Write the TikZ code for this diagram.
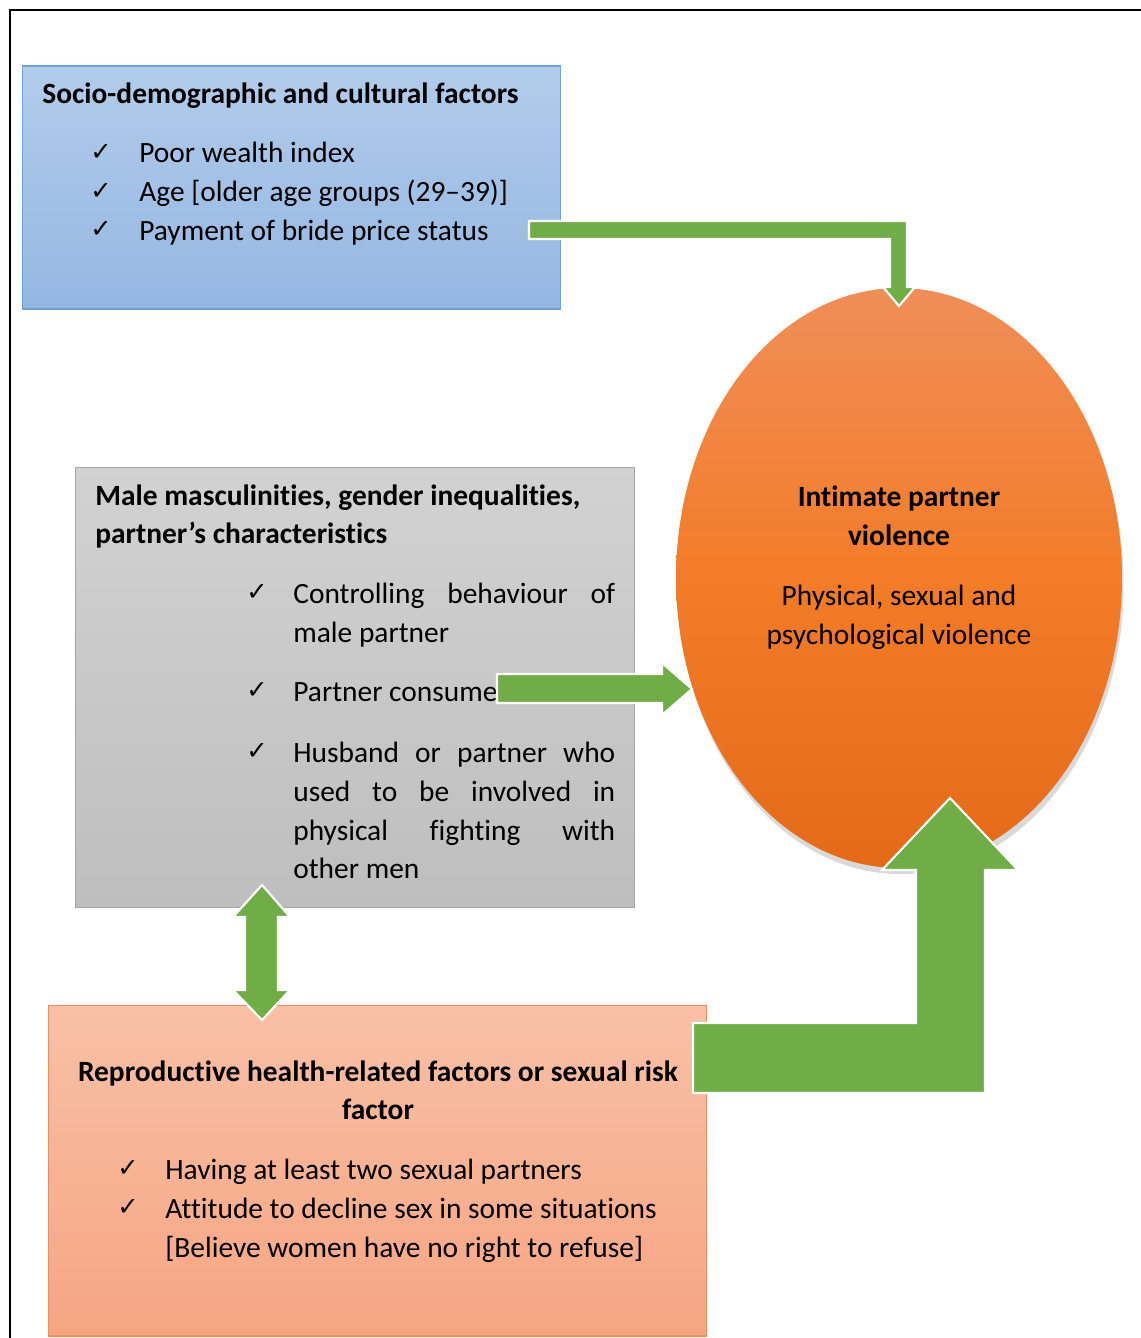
\documentclass[tikz,border=0pt]{standalone}
\usepackage{fontspec}
\setmainfont{Carlito}[Ligatures={TeX,NoCommon}]
\newfontfamily\symfont{DejaVu Sans}
\definecolor{socblue}{RGB}{178,204,235}
\definecolor{socblued}{RGB}{148,183,226}
\definecolor{socedge}{RGB}{111,160,220}
\definecolor{malegray}{RGB}{210,210,210}
\definecolor{malegrayd}{RGB}{190,190,190}
\definecolor{maleedge}{RGB}{165,165,165}
\definecolor{repsalmon}{RGB}{248,192,166}
\definecolor{repsalmond}{RGB}{246,165,130}
\definecolor{repedge}{RGB}{240,140,90}
\definecolor{ipvtop}{RGB}{240,142,88}
\definecolor{ipvmid}{RGB}{243,124,40}
\definecolor{ipvbot}{RGB}{228,106,26}
\definecolor{arrowgreen}{RGB}{112,173,71}
\usetikzlibrary{shapes.geometric,shadows}
\newcommand{\fullline}[1]{\makebox[6.44cm][s]{#1}}

\begin{document}
\begin{tikzpicture}[
  x=0.02cm, y=-0.02cm,
  every node/.style={font=\fontsize{16.75}{22}\selectfont,inner sep=0pt},
  factorbox/.style={rectangle,draw,line width=0.6pt},
  tick/.style={font=\symfont\fontsize{14.5}{14.5}\selectfont},
  item/.style={anchor=base west},
  mid/.style={anchor=base},
  head/.style={font=\fontsize{16.75}{22}\selectfont\bfseries},
  blockarrow/.style={fill=arrowgreen,draw=white,line width=1.2pt,line join=miter},
]
  \useasboundingbox (0,0) rectangle (1141,1338);

  % Frame
  \draw[line width=0.8pt] (10,1338) -- (10,10) -- (1141,10);

  % Socio-demographic box
  \node[factorbox,draw=socedge,top color=socblue,bottom color=socblued,
        minimum width=10.78cm,minimum height=4.86cm] (socio) at (291.5,187.5) {};
  \node[head,item] (sociotitle) at (42,104) {Socio-demographic and cultural factors};
  \foreach \y/\txt [count=\i] in {154/Poor wealth index,
                                  193/{Age [older age groups (29--39)]},
                                  231/Payment of bride price status}{
    \node[tick] (sociotick\i) at (101,\y-2) {✓};
    \node[item] (socioitem\i) at (139,\y+9) {\txt};
  }

  % Male masculinities box
  \node[factorbox,draw=maleedge,top color=malegray,bottom color=malegrayd,
        minimum width=11.2cm,minimum height=8.82cm] (male) at (355,687.5) {};
  \node[head,item] (maletitle1) at (95,505) {Male masculinities, gender inequalities,};
  \node[head,item] (maletitle2) at (95,543) {partner’s characteristics};
  \foreach \y in {594,692,753}{
    \node[tick] (maletick\y) at (257,\y-2) {✓};
  }
  \foreach \y/\txt [count=\i] in {594/{\fullline{Controlling behaviour of}},
                                  633/male partner,
                                  692/Partner consume,
                                  753/{\fullline{Husband or partner who}},
                                  792/{\fullline{used to be involved in}},
                                  831/{\fullline{physical fighting with}},
                                  869/other men}{
    \node[item] (maleitem\i) at (293,\y+9) {\txt};
  }

  % Reproductive health box
  \node[factorbox,draw=repedge,top color=repsalmon,bottom color=repsalmond,
        minimum width=13.18cm,minimum height=6.62cm] (repro) at (377.5,1170.5) {};
  \node[head,mid] (reprotitle1) at (378,1081) {Reproductive health-related factors or sexual risk};
  \node[head,mid] (reprotitle2) at (378,1119) {factor};
  \node[tick] (reprotick1) at (128,1168) {✓};
  \node[tick] (reprotick2) at (128,1207) {✓};
  \node[item] (reproitem1) at (165,1179) {Having at least two sexual partners};
  \node[item] (reproitem2) at (165,1218) {Attitude to decline sex in some situations};
  \node[item] (reproitem3) at (165,1257) {[Believe women have no right to refuse]};

  % Intimate partner violence
  \node[ellipse,top color=ipvtop,bottom color=ipvbot,middle color=ipvmid,
        minimum width=8.92cm,minimum height=11.6cm,
        drop shadow={shadow xshift=1pt,shadow yshift=-3.5pt,opacity=0.3}] (ipv) at (899,578) {};
  \node[head,mid] (ipvtitle1) at (899,506) {Intimate partner};
  \node[head,mid] (ipvtitle2) at (899,545) {violence};
  \node[mid] (ipvtext1) at (899,605) {Physical, sexual and};
  \node[mid] (ipvtext2) at (899,644) {psychological violence};

  % Block arrows
  \filldraw[blockarrow] (529,221) -- (907,221) -- (907,287) -- (915,287) -- (899,306)
    -- (883,287) -- (890,287) -- (890,239) -- (529,239) -- cycle;
  \filldraw[blockarrow] (497,674) -- (662,674) -- (662,663) -- (692,689) -- (662,715)
    -- (662,703) -- (497,703) -- cycle;
  \filldraw[blockarrow] (693,1023) -- (916,1023) -- (916,870) -- (882,870) -- (950,798)
    -- (1018,870) -- (985,870) -- (985,1093) -- (693,1093) -- cycle;
  \filldraw[blockarrow] (262,885) -- (290,917) -- (278,917) -- (278,990) -- (290,990)
    -- (262,1020) -- (233,990) -- (245,990) -- (245,917) -- (233,917) -- cycle;
\end{tikzpicture}
\end{document}
